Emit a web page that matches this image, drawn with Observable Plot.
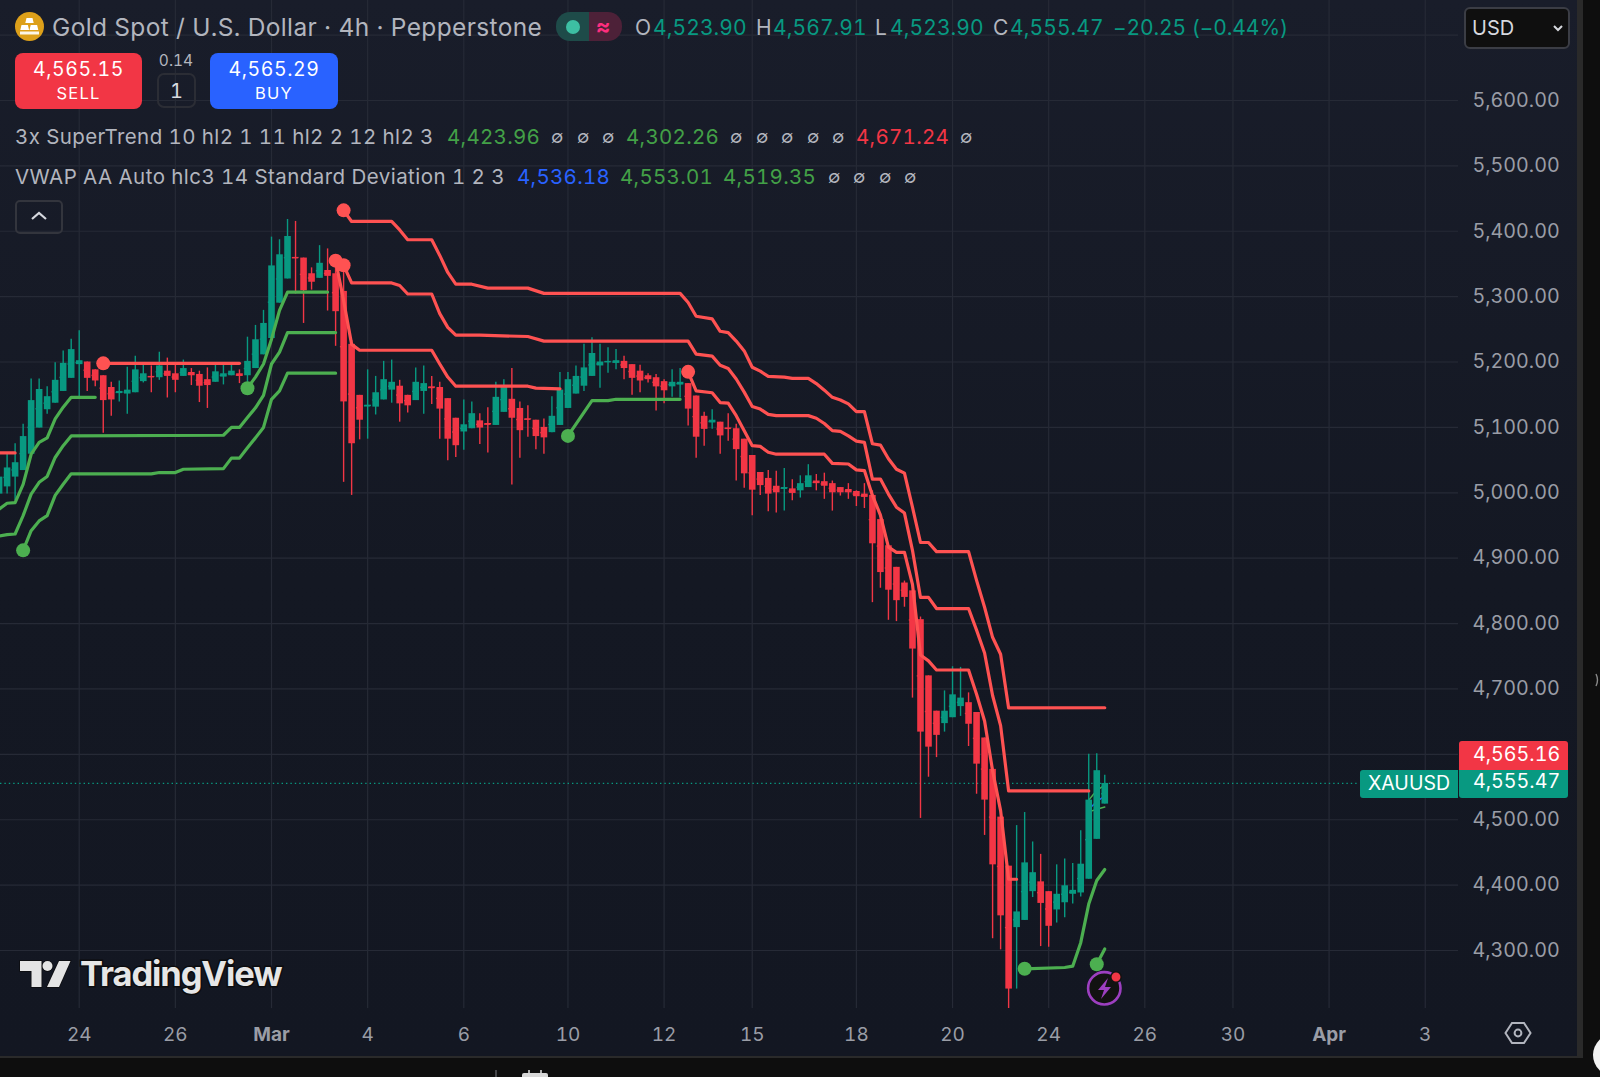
<!DOCTYPE html>
<html>
<head>
<meta charset="utf-8">
<script src="https://cdn.jsdelivr.net/npm/d3@7"></script>
<script src="https://cdn.jsdelivr.net/npm/@observablehq/plot@0.6"></script>
<style>
html,body{margin:0;padding:0;background:#0e0e0e;width:1600px;height:1077px;overflow:hidden;font-family:Inter,"Noto Sans",sans-serif;font-variant-numeric:tabular-nums}
#panel{position:absolute;left:0;top:0;width:1577px;height:1056px;background:linear-gradient(180deg,#191d2a 0%,#141823 55%,#131722 100%)}
#edgeR{position:absolute;left:1577px;top:0;width:6px;height:1056px;background:#2a2a2a}
#edgeB{position:absolute;left:0;top:1056px;width:1583px;height:2px;background:#2a2a2a}
#chart{position:absolute;left:0;top:0}
.t{position:absolute;white-space:nowrap;line-height:1}
.box{position:absolute;box-sizing:border-box}
</style>
</head>
<body>
<div id="panel"></div><div id="edgeR"></div><div id="edgeB"></div>
<div id="chart"></div>
<div id="overlay"></div>
<script>
// ---- candles: bar -1 .. 137 (4h bars), prices
const firstBar = -1;
const open = [
4998,5009,5024,5034,5059,5099,5127,5137,5155,5175,
5196,5200,5188,5179,5161,5152,5151,5153,5170,5178,
5176,5186,5182,5178,5184,5181,5173,5169,5177,5179,
5182,5179,5190,5211,5236,5290,5327,5360,5359,5335,
5328,5340,5335,5308,5227,5149,5132,5131,5142,5157,
5163,5149,5141,5155,5162,5161,5144,5114,5093,5098,
5110,5106,5103,5123,5143,5129,5113,5111,5100,5092,
5103,5129,5151,5163,5178,5194,5200,5198,5201,5196,
5186,5179,5176,5170,5162,5165,5167,5148,5117,5107,
5108,5099,5098,5082,5057,5031,5022,5010,5006,5006,
5003,5008,5018,5017,5014,5008,5005,5002,4998,4996,
4959,4919,4886,4862,4850,4806,4720,4666,4647,4656,
4673,4679,4664,4625,4577,4504,4429,4335,4346,4390,
4405,4390,4362,4373,4386,4388,4409,4470,4523.90];
const high = [
5039,5059,5075,5105,5174,5174,5162,5199,5217,5235,
5248,5200,5188,5179,5169,5171,5192,5209,5195,5194,
5215,5206,5195,5203,5190,5186,5191,5198,5197,5198,
5188,5238,5256,5279,5391,5387,5418,5415,5359,5344,
5378,5373,5360,5350,5233,5149,5188,5178,5201,5203,
5172,5149,5191,5194,5178,5169,5144,5114,5142,5139,
5121,5130,5169,5173,5190,5139,5133,5111,5113,5147,
5184,5184,5194,5227,5237,5227,5222,5219,5209,5196,
5195,5182,5181,5173,5188,5190,5167,5148,5123,5127,
5108,5121,5105,5082,5057,5031,5034,5033,5037,5020,
5026,5043,5028,5030,5018,5008,5014,5003,5014,5003,
4968,4919,4886,4865,4850,4810,4720,4666,4697,4734,
4733,4694,4664,4625,4577,4504,4429,4491,4511,4466,
4447,4390,4431,4440,4433,4483,4600,4601,4567.91];
const low = [
4998,4998,4988,5034,5059,5099,5120,5137,5155,5175,
5144,5155,5162,5091,5117,5139,5120,5153,5168,5153,
5172,5145,5153,5178,5164,5138,5129,5169,5165,5179,
5167,5169,5190,5211,5236,5290,5327,5304,5259,5310,
5328,5278,5224,5016,4996,5081,5082,5119,5142,5137,
5108,5122,5141,5120,5135,5082,5049,5054,5065,5098,
5074,5061,5103,5123,5012,5053,5085,5066,5059,5092,
5103,5129,5151,5155,5178,5160,5183,5188,5173,5149,
5153,5168,5125,5136,5146,5145,5102,5053,5071,5097,
5059,5079,5018,5007,4965,4996,4971,4969,4972,4988,
4992,5008,5003,4990,4972,4995,4990,4979,4976,4832,
4854,4805,4803,4825,4686,4502,4565,4595,4634,4656,
4658,4612,4539,4476,4318,4301,4209,4241,4346,4381,
4306,4305,4342,4350,4371,4382,4409,4470,4523.90];
const close = [
5024,5038,5046,5086,5141,5158,5147,5172,5198,5219,
5202,5175,5171,5141,5142,5155,5157,5188,5182,5177,
5194,5178,5172,5190,5179,5163,5164,5185,5182,5186,
5178,5201,5234,5259,5347,5364,5392,5359,5309,5322,
5351,5331,5277,5139,5075,5111,5134,5153,5173,5169,
5136,5133,5169,5167,5160,5128,5082,5072,5104,5121,
5099,5104,5146,5162,5114,5095,5112,5086,5084,5117,
5157,5173,5178,5191,5213,5200,5201,5202,5190,5175,
5171,5173,5162,5156,5169,5169,5128,5085,5097,5111,
5087,5098,5066,5029,5004,5011,4998,5000,5008,4999,
5014,5026,5014,5010,5000,5000,5000,4994,4993,4922,
4878,4851,4835,4840,4761,4634,4611,4629,4666,4691,
4686,4646,4585,4530,4431,4353,4241,4359,4434,4419,
4372,4337,4386,4399,4392,4432,4530,4575,4555.47];

// ---- SuperTrend stretches: [bar, price]
const redLeft = [[-1,5061],[1,5061]];
const redLowA = [[12,5198],[29,5198]];
const redLowB = [[41,5355],[42,5294],[43,5227],[44,5218],[53,5218],[54,5197],[55,5177],[56,5163],[65,5163],[66,5160],[69,5159]];
const redLowC = [[85,5185],[86,5156],[88,5153],[89,5138],[90,5137],[91,5118],[92,5095],[93,5072],[94,5071],[95,5062],[96,5059],[102,5059],[103,5045],[105,5044],[106,5035],[107,5034],[108,4996],[109,4966],[110,4917],[111,4909],[112,4909],[113,4860],[114,4752],[115,4743],[116,4729],[120,4729],[121,4692],[122,4651],[123,4575],[124,4514],[125,4409],[126,4409]];
const redMid = [[42,5348],[43,5321],[48,5321],[49,5317],[50,5304],[53,5304],[54,5274],[55,5253],[56,5241],[59,5241],[65,5239],[67,5232],[85,5232],[86,5212],[88,5209],[89,5195],[90,5190],[91,5174],[92,5154],[93,5132],[94,5128],[95,5120],[96,5118],[100,5118],[101,5114],[102,5106],[103,5095],[104,5094],[105,5087],[106,5079],[107,5077],[108,5021],[109,5021],[110,4998],[111,4978],[112,4969],[113,4912],[114,4840],[115,4840],[116,4823],[120,4823],[121,4790],[122,4755],[123,4690],[124,4644],[125,4544],[135,4544]];
const redTop = [[42,5432],[43,5415],[48,5415],[49,5402],[50,5387],[53,5387],[54,5363],[55,5337],[56,5319],[58,5319],[60,5313],[65,5313],[67,5305],[84,5305],[85,5291],[86,5270],[88,5266],[89,5247],[90,5245],[91,5232],[92,5217],[93,5192],[94,5186],[95,5178],[97,5177],[98,5175],[100,5175],[101,5167],[102,5157],[103,5146],[104,5142],[105,5136],[106,5124],[107,5124],[108,5075],[109,5073],[110,5052],[111,5036],[112,5030],[113,4978],[114,4924],[115,4924],[116,4910],[120,4910],[121,4866],[122,4825],[123,4779],[124,4753],[125,4671],[137,4671.24]];
const greenUpA = [[-1,4975],[0,4984],[1,4985],[2,5013],[3,5059],[4,5077],[5,5084],[6,5113],[7,5131],[8,5146],[11,5146]];
const greenUpB = [[30,5160],[31,5177],[32,5197],[33,5235],[34,5279],[35,5307],[40,5307]];
const greenUpC = [[70,5087],[71,5105],[72,5123],[73,5141],[75,5141],[76,5143],[84,5143]];
const greenUpD = [[127,4272],[132,4274],[133,4276],[134,4312],[135,4371],[136,4407],[137,4423.96]];
const greenMid = [[-1,4934],[0,4936],[1,4937],[2,4965],[3,4998],[4,5016],[5,5025],[6,5054],[7,5072],[8,5087],[27,5088],[28,5100],[29,5100],[30,5115],[31,5130],[32,5149],[33,5197],[34,5215],[35,5245],[41,5245]];
const greenLowA = [[2,4912],[3,4942],[4,4957],[5,4965],[6,4996],[7,5013],[8,5029],[18,5029],[19,5031],[21,5031],[22,5036],[27,5037],[28,5053],[29,5053],[30,5069],[31,5084],[32,5100],[33,5143],[34,5156],[35,5183],[41,5183]];
const greenLowB = [[136,4279],[137,4302.26]];
// ---- VWAP with bands on the last bars
const vwapBars = [135,136,137];
const vwapMid = [4516,4528,4536.18];
const vwapUp = [4530,4545,4553.01];
const vwapLow = [4512,4516,4519.35];

// ---- axes
const priceGrid = [4300,4400,4500,4600,4700,4800,4900,5000,5100,5200,5300,5400,5500,5600,5700];
const priceLabels = [4300,4400,4500,4700,4800,4900,5000,5100,5200,5300,5400,5500,5600];
const dayBars = [9,21,45,57,70,82,93,106,118,130,142,153,177];
const dayLabels = ["24","26","4","6","10","12","15","18","20","24","26","30","3"];
const monthBars = [33,165];
const monthLabels = ["Mar","Apr"];
const lastClose = close[close.length-1];

// ---- colours
const teal="#089981", red="#f23645", lineRed="#ff5252", lineGreen="#4caf50", gridC="#262a36", axisC="#9a9da6";

const bars = open.map((o,i)=>({k:firstBar+i,o,h:high[i],l:low[i],c:close[i]}));
const up = bars.filter(d=>d.c>=d.o), down = bars.filter(d=>d.c<d.o);
const toRows = (seg,name)=>seg.map(([k,p])=>({k,p,s:name}));
const redSegs = {redLeft,redLowA,redLowB,redLowC,redMid,redTop};
const greenSegs = {greenUpA,greenUpB,greenUpC,greenUpD,greenMid,greenLowA,greenLowB};
const redRows = Object.entries(redSegs).flatMap(([n,s])=>toRows(s,n));
const greenRows = Object.entries(greenSegs).flatMap(([n,s])=>toRows(s,n));
const redDots = [redLowA,redLowB,redLowC,redMid,redTop].map(s=>s[0]);
const greenDots = [greenUpB,greenUpC,greenUpD,greenLowA,greenLowB].map(s=>s[0]);

const candle = (rows,color)=>[
  Plot.ruleX(rows,{x:"k",y1:"l",y2:"h",stroke:color,strokeWidth:1.4,clip:true}),
  Plot.ruleX(rows,{x:"k",y1:"o",y2:"c",stroke:color,strokeWidth:6.6,clip:true}),
  Plot.ruleY(rows,{y:d=>(d.o+d.c)/2,x1:d=>d.k-0.4,x2:d=>d.k+0.4,stroke:color,strokeWidth:1.4,clip:true})
];
const vwapLine = (vals,color)=>Plot.line(vals.map((p,i)=>({k:vwapBars[i],p})),{x:"k",y:"p",stroke:color,strokeWidth:1.5});

const chart = Plot.plot({
  width:1600,height:1077,
  marginTop:0,marginLeft:0,marginRight:142,marginBottom:69,
  x:{type:"linear",domain:[-0.824,181.15],axis:null},
  y:{type:"linear",domain:[4211.3,5752.9],axis:null},
  style:{background:"transparent",fontFamily:"Inter, sans-serif",overflow:"visible",fontVariantNumeric:"tabular-nums"},
  marks:[
    Plot.gridY(priceGrid,{stroke:gridC,strokeOpacity:1,strokeWidth:1.2}),
    Plot.gridX([...dayBars,...monthBars],{stroke:gridC,strokeOpacity:1,strokeWidth:1.2}),
    Plot.ruleY([lastClose],{stroke:teal,strokeWidth:1.3,strokeDasharray:"1.4 3",x1:-0.824,x2:168.8}),
    vwapLine(vwapMid,"#2962ff"),vwapLine(vwapUp,lineGreen),vwapLine(vwapLow,lineGreen),
    ...candle(up,teal),...candle(down,red),
    Plot.line(greenRows,{x:"k",y:"p",z:"s",stroke:lineGreen,strokeWidth:3.2,strokeLinejoin:"round",strokeLinecap:"round",clip:true}),
    Plot.line(redRows,{x:"k",y:"p",z:"s",stroke:lineRed,strokeWidth:3.2,strokeLinejoin:"round",strokeLinecap:"round",clip:true}),
    Plot.dot(greenDots,{x:d=>d[0],y:d=>d[1],r:7,fill:lineGreen}),
    Plot.dot(redDots,{x:d=>d[0],y:d=>d[1],r:7,fill:lineRed}),
    Plot.axisY(priceLabels,{anchor:"right",tickSize:0,tickPadding:14,tickFormat:d3.format(",.2f"),label:null,fontSize:19.7,color:axisC}),
    Plot.axisX(dayBars,{anchor:"bottom",tickSize:0,tickPadding:19,tickFormat:(d,i)=>dayLabels[i],label:null,fontSize:19,color:axisC}),
    Plot.axisX(monthBars,{anchor:"bottom",tickSize:0,tickPadding:19,tickFormat:(d,i)=>monthLabels[i],label:null,fontSize:19,fontWeight:700,color:axisC})
  ]
});
document.getElementById("chart").append(chart);

// ---- header, buttons, overlays (chart furniture)
const ov = document.getElementById("overlay");
const txt=(s,x,y,size,color,extra="")=>{ov.insertAdjacentHTML("beforeend",`<div class="t" style="left:${x}px;top:${y}px;font-size:${size}px;color:${color};transform:translateY(-50%);${extra}">${s}</div>`)};
const box=(x,y,w,h,style)=>{ov.insertAdjacentHTML("beforeend",`<div class="box" style="left:${x}px;top:${y}px;width:${w}px;height:${h}px;${style}"></div>`)};
const grey="#b2b5be", g2="#43a047", upTxt="#089981";
const nums="letter-spacing:.1px;";

// top line
ov.insertAdjacentHTML("beforeend",`<svg style="position:absolute;left:15px;top:12px" width="29" height="29" viewBox="0 0 29 29"><circle cx="14.5" cy="14.5" r="14.5" fill="#dda01a"/><path d="M11.5 6h6l1.2 5h-8.4zM6.5 13h6.4l1.2 5H5.3zM15.7 13h6.4l1.2 5h-8.8z" fill="#fff"/><path d="M5 19.5h19v3H5z" fill="#fff" opacity=".9"/></svg>`);
txt("Gold Spot / U.S. Dollar · 4h · Pepperstone",52,27,24.5,grey,"letter-spacing:.36px");
box(556,12,33,29,"background:#1e4b49;border-radius:14px 0 0 14px");
box(589,12,33,29,"background:#4d2138;border-radius:0 14px 14px 0");
box(566,19.5,14,14,"background:#3dbfa3;border-radius:50%");
txt("≈",596,26,22,"#ff2e7e","font-weight:700");
txt("O",635,27,21,grey); txt("4,523.90",653,27,21,upTxt,nums);
txt("H",756,27,21,grey); txt("4,567.91",773,27,21,upTxt,nums);
txt("L",875,27,21,grey); txt("4,523.90",890,27,21,upTxt,nums);
txt("C",993,27,21,grey); txt("4,555.47",1010,27,21,upTxt,nums);
txt("−20.25 (−0.44%)",1113,27,21,upTxt,"letter-spacing:-.1px");

// currency
box(1464,7,106,42,"background:#0f0f0f;border:2px solid #3b3d45;border-radius:6px");
txt("USD",1472,28,20,"#d6d8de");
ov.insertAdjacentHTML("beforeend",`<svg style="position:absolute;left:1552px;top:23px" width="12" height="10"><path d="M2 3l4 4 4-4" fill="none" stroke="#d6d8de" stroke-width="2"/></svg>`);

// trade buttons
box(15,53,127,56,"background:#f23645;border-radius:8px");
txt("4,565.15",78.5,70,19.5,"#fff","transform:translate(-50%,-50%);letter-spacing:.6px");
txt("SELL",78.5,93,16.5,"#fff","transform:translate(-50%,-50%);letter-spacing:1.2px");
txt("0.14",176,61,15.5,grey,"transform:translate(-50%,-50%)");
box(157,73,39,35,"border:2px solid #2b2d35;border-radius:7px");
txt("1",176.5,91,20,"#d8dae0","transform:translate(-50%,-50%)");
box(210,53,128,56,"background:#2962ff;border-radius:8px");
txt("4,565.29",274,70,19.5,"#fff","transform:translate(-50%,-50%);letter-spacing:.6px");
txt("BUY",274,93,16.5,"#fff","transform:translate(-50%,-50%);letter-spacing:1.2px");

// legends
const legNum="letter-spacing:.3px;";
txt("3x SuperTrend 10 hl2 1 11 hl2 2 12 hl2 3",15,136.5,20.5,grey,"letter-spacing:.4px");
txt("4,423.96",447,136.5,20.5,g2,legNum);
[551,577,602,730,756,781,807,832,960].forEach(x=>txt("∅",x,136.5,18,grey));
txt("4,302.26",626,136.5,20.5,g2,legNum);
txt("4,671.24",856,136.5,20.5,"#f23645",legNum);
txt("VWAP AA Auto hlc3 14 Standard Deviation 1 2 3",15,176.5,20.5,grey,"letter-spacing:.44px");
txt("4,536.18",517,176.5,20.5,"#2962ff",legNum);
txt("4,553.01",620,176.5,20.5,g2,legNum);
txt("4,519.35",723,176.5,20.5,g2,legNum);
[828,853,879,904].forEach(x=>txt("∅",x,176.5,18,grey));

// collapse
box(15,200,48,34,"border:2px solid #33353d;border-radius:5px");
ov.insertAdjacentHTML("beforeend",`<svg style="position:absolute;left:30px;top:210px" width="18" height="12"><path d="M2 9l7-6 7 6" fill="none" stroke="#d6d8de" stroke-width="2.2"/></svg>`);

// price labels
box(1459,741,109,28.5,"background:#f23645;border-radius:3px 3px 0 0");
txt("4,565.16",1473,754.5,19.7,"#fff");
box(1459,769.5,109,28,"background:#089981;border-radius:0 0 3px 3px");
txt("4,555.47",1473,782,19.7,"#fff");
box(1360,769.5,97.5,28,"background:#089981;border-radius:3px 0 0 3px");
txt("XAUUSD",1368,784,19.5,"#fff");

// settings hexagon
ov.insertAdjacentHTML("beforeend",`<svg style="position:absolute;left:1504px;top:1021px" width="28" height="24" viewBox="0 0 28 24"><path d="M8 2h12l6.5 10L20 22H8L1.5 12z" fill="none" stroke="#b2b5be" stroke-width="2"/><circle cx="14" cy="12" r="3.4" fill="none" stroke="#b2b5be" stroke-width="2"/></svg>`);

// watermark
ov.insertAdjacentHTML("beforeend",`<svg style="position:absolute;left:18px;top:958px" width="56" height="32" viewBox="0 0 56 32"><g fill="#e4e4e4" stroke="#0c0c0e" stroke-width="1.4" paint-order="stroke"><path d="M2 3h21.5v26h-10V13H2z"/><circle cx="29.5" cy="8" r="5"/><path d="M41 3h11.5L41 29H29z"/></g></svg>`);
ov.insertAdjacentHTML("beforeend",`<div class="t" style="left:80px;top:974px;transform:translateY(-50%);font-size:34.5px;font-weight:700;letter-spacing:-1.1px;color:#e6e6e6;-webkit-text-stroke:3px #0c0c0e;paint-order:stroke fill">TradingView</div>`);

// alert bolt
ov.insertAdjacentHTML("beforeend",`<svg style="position:absolute;left:1084px;top:968px" width="42" height="42" viewBox="0 0 42 42"><circle cx="20.3" cy="20.3" r="16.2" fill="#121212" stroke="#9c3fc0" stroke-width="2.6"/><path d="M24 10l-10 12h6l-3 9 10-12h-6z" fill="#9c3fc0"/><circle cx="32" cy="9" r="5.2" fill="#f23645" stroke="#121212" stroke-width="1.5"/></svg>`);

// bits of the surrounding app
ov.insertAdjacentHTML("beforeend",`<svg style="position:absolute;left:0;top:0;pointer-events:none" width="1600" height="1077"><circle cx="1614" cy="1055" r="21" fill="#f2f2f2"/><path d="M496 1070v7" stroke="#6a6c72" stroke-width="1.2"/><path d="M522 1077v-2a2 2 0 0 1 2-2h22a2 2 0 0 1 2 2v2z" fill="#d8d8d8"/><path d="M529 1070v4M541 1070v4" stroke="#d8d8d8" stroke-width="1.6"/><path d="M1596 674q3 6 0 12" fill="none" stroke="#8a8a8a" stroke-width="1.4"/></svg>`);
</script>
</body>
</html>
